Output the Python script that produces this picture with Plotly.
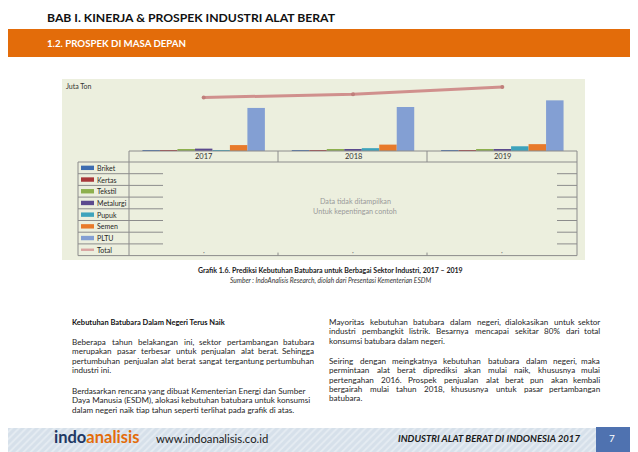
import plotly.graph_objects as go

# ---------------- data (Juta Ton) ----------------
years = ["2017", "2018", "2019"]
briket = [0.4, 0.4, 0.4]
kertas = [1.2, 1.2, 1.2]
tekstil = [2.5, 2.5, 2.5]
metalurgi = [5.0, 4.0, 4.0]
pupuk = [2.0, 6.0, 10.0]
semen = [12.5, 13.5, 14.5]
pltu = [91.0, 93.0, 107.0]
total = [113.0, 120.0, 135.0]

series_names = ["Briket", "Kertas", "Tekstil", "Metalurgi", "Pupuk", "Semen", "PLTU"]
series_values = [briket, kertas, tekstil, metalurgi, pupuk, semen, pltu]
series_colors = ["#3E6DB0", "#A8383A", "#8DB04D", "#5B4A8E", "#3DA3BC", "#E87A2A", "#839FD3"]
total_color = "#D0908D"

FONT = "Lato"
# the page body has an 8px margin: figure is placed at (8, 8)
OFF = 8
FW, FH = 630, 444

# plot area in page pixels
PX0, PX1 = 129, 577
PY_TOP, PY_BASE = 80, 151


def fx(px):
    return (px - OFF) / FW


def fy(py):
    return 1 - (py - OFF) / FH


fig = go.Figure()

for name, vals, col in zip(series_names, series_values, series_colors):
    fig.add_trace(go.Bar(x=years, y=vals, name=name, marker=dict(color=col, line=dict(width=0)),
                         showlegend=False, xaxis="x", yaxis="y"))

fig.add_trace(go.Scatter(x=years, y=total, name="Total", mode="lines+markers",
                         line=dict(color=total_color, width=3),
                         marker=dict(size=4, color="#C07F7B"),
                         showlegend=False, xaxis="x", yaxis="y"))

# footer hatched band (page-pixel overlay axis)
fig.add_trace(go.Scatter(x=[0, 596, 596, 0, 0], y=[428, 428, 452, 452, 428], mode="lines",
                         line=dict(width=0), fill="toself",
                         fillcolor="#DCE5EE",
                         fillpattern=dict(shape="/", fgcolor="#F4F7FA", bgcolor="#D6E0EA", size=5, solidity=0.35),
                         hoverinfo="skip", showlegend=False, xaxis="x2", yaxis="y2"))

shapes = []
ann = []


def rect(x0, y0, x1, y1, color, layer="below"):
    shapes.append(dict(type="rect", xref="paper", yref="paper", x0=fx(x0), y0=fy(y0), x1=fx(x1), y1=fy(y1),
                       fillcolor=color, layer=layer, line=dict(width=0)))


def line(x0, y0, x1, y1, color="#8C8C8C", w=1, layer="above"):
    shapes.append(dict(type="line", xref="paper", yref="paper", x0=fx(x0), y0=fy(y0), x1=fx(x1), y1=fy(y1),
                       layer=layer, line=dict(color=color, width=w)))


def text(x, y, s, size, color="#262626", xanchor="left", weight="normal", style="normal", family=FONT):
    ann.append(dict(xref="paper", yref="paper", x=fx(x), y=fy(y), text=s, showarrow=False,
                    xanchor=xanchor, yanchor="middle", borderpad=0,
                    font=dict(family=family, size=size, color=color, weight=weight, style=style)))


# approximate Lato Regular advance widths (em)
CW = {" ": 0.193, ",": 0.2, ".": 0.2, "(": 0.33, ")": 0.33, "%": 0.8, "-": 0.33, ":": 0.2}
CW.update(dict(zip("abcdefghijklmnopqrstuvwxyz",
                   [0.49, 0.55, 0.45, 0.55, 0.51, 0.32, 0.49, 0.55, 0.23, 0.23, 0.5, 0.23, 0.82,
                    0.55, 0.55, 0.55, 0.55, 0.37, 0.42, 0.34, 0.55, 0.5, 0.76, 0.49, 0.5, 0.44])))
CW.update(dict(zip("ABCDEFGHIJKLMNOPQRSTUVWXYZ",
                   [0.72, 0.68, 0.71, 0.79, 0.61, 0.59, 0.77, 0.8, 0.32, 0.44, 0.71, 0.55, 0.95,
                    0.8, 0.85, 0.65, 0.85, 0.67, 0.57, 0.63, 0.77, 0.72, 1.05, 0.69, 0.66, 0.65])))
CW.update({d: 0.58 for d in "0123456789"})
CAL = 1.035


def est_w(s, size):
    return sum(CW.get(c, 0.55) for c in s) * size * CAL


def justified(x0, x1, y, s, size, color="#262626"):
    words = s.split()
    total_w = sum(est_w(w, size) for w in words)
    gap = (x1 - x0 - total_w) / max(len(words) - 1, 1)
    if len(words) < 2 or gap < est_w(" ", size) * 1.7:
        text(x0, y, " ".join(words), size, color)
        return
    xc = x0
    for k, w in enumerate(words):
        if k == len(words) - 1:
            text(x1, y, w, size, color, xanchor="right")
        else:
            text(xc, y, w, size, color)
        xc += est_w(w, size) + gap


def paragraph(x0, x1, y0, lines, size, ls):
    for i, s in enumerate(lines):
        yy = y0 + ls * i
        if i == len(lines) - 1:
            text(x0, yy, s, size)
        else:
            justified(x0, x1, yy, s, size)


# header
text(46, 18, "BAB I. KINERJA & PROSPEK INDUSTRI ALAT BERAT", 12.2, "#111111", weight="bold")
rect(0, 29, 640, 57, "#E36C0A")
text(46, 43, "1.2. PROSPEK DI MASA DEPAN", 9.7, "#FFFFFF", weight="bold")

# chart panel
rect(62, 79, 585, 260, "#ECEFDE")
text(65, 86, "Juta Ton", 7, "#333333")

# data table
row_h = 11.7
t_top, h_bot = 151, 162
t_bot = h_bot + row_h * 8
gc = "#8C8C8C"
line(PX0, t_top, PX1, t_top, gc)
line(PX0, h_bot, PX1, h_bot, gc)
line(PX0, t_top, PX0, t_bot, gc)
line(PX1, t_top, PX1, t_bot, gc)
line(78, h_bot, 78, t_bot, gc)
line(78, h_bot, PX0, h_bot, gc)
line(78, t_bot, PX1, t_bot, gc)
for xd in (278, 427):
    line(xd, t_top, xd, h_bot, gc)
    line(xd, t_bot - 3, xd, t_bot, gc)
for i in range(1, 8):
    yy = h_bot + row_h * i
    line(78, yy, PX0, yy, gc)
    line(PX0, yy, 163, yy, gc)
    line(557, yy, PX1, yy, gc)

for i, yr in enumerate(years):
    ann.append(dict(xref="x", yref="paper", x=i, y=fy(156.5), text=yr, showarrow=False,
                    xanchor="center", yanchor="middle",
                    font=dict(family=FONT, size=7.5, color="#333333")))
    ann.append(dict(xref="x", yref="paper", x=i, y=fy(251.5), text="·", showarrow=False,
                    xanchor="center", yanchor="middle",
                    font=dict(family=FONT, size=7, color="#777777")))

legend_names = series_names + ["Total"]
legend_cols = series_colors + ["#D9A3A0"]
for i, (nm, col) in enumerate(zip(legend_names, legend_cols)):
    yc = h_bot + row_h * (i + 0.5)
    hh = 1.2 if nm == "Total" else 2.2
    rect(81, yc - hh, 94, yc + hh, col, layer="above")
    text(95.5, yc, nm, 7, "#262626")

text(355, 201, "Data tidak ditampilkan", 7.2, "#9A9A9A", xanchor="center")
text(355, 211, "Untuk kepentingan contoh", 7.2, "#9A9A9A", xanchor="center")

# caption
text(330, 270, "Grafik 1.6. Prediksi Kebutuhan Batubara untuk Berbagai Sektor Industri, 2017 – 2019", 7, "#1A1A1A",
     xanchor="center", weight="bold")
text(330, 280, "Sumber : IndoAnalisis Research, diolah dari Presentasi Kementerian ESDM", 6.6, "#333333",
     xanchor="center", style="italic")

# body text
left_title = "Kebutuhan Batubara Dalam Negeri Terus Naik"
left_p1 = ["Beberapa tahun belakangan ini, sektor pertambangan batubara",
           "merupakan pasar terbesar untuk penjualan alat berat. Sehingga",
           "pertumbuhan penjualan alat berat sangat tergantung pertumbuhan",
           "industri ini."]
left_p2 = ["Berdasarkan rencana yang dibuat Kementerian Energi dan Sumber",
           "Daya Manusia (ESDM), alokasi  kebutuhan batubara untuk konsumsi",
           "dalam negeri naik tiap tahun seperti terlihat pada grafik di atas."]
right_p1 = ["Mayoritas kebutuhan batubara dalam negeri, dialokasikan untuk sektor",
            "industri pembangkit listrik. Besarnya mencapai sekitar 80% dari total",
            "konsumsi batubara dalam negeri."]
right_p2 = ["Seiring dengan meingkatnya kebutuhan batubara dalam negeri, maka",
            "permintaan alat berat diprediksi akan mulai naik, khususnya mulai",
            "pertengahan 2016. Prospek penjualan alat berat pun akan kembali",
            "bergairah mulai tahun 2018, khususnya untuk pasar pertambangan",
            "batubara."]
LS = 9.3
BS = 8.1
text(71, 322, left_title, 7.5, "#111111", weight="bold")
paragraph(71, 315, 342, left_p1, BS, LS)
paragraph(71, 315, 391, left_p2, BS, LS)
paragraph(328, 601, 322, right_p1, BS, LS)
paragraph(328, 601, 361, right_p2, BS, LS)

# footer
rect(596, 427, 640, 454, "#4F72B0")
text(612, 438, "7", 10, "#FFFFFF", xanchor="center")
text(53, 437, "<span style='color:#1F3864'>indo</span><span style='color:#E36C0A'>analisis</span>", 16.5,
     "#1F3864", weight="bold")
text(155, 438, "www.indoanalisis.co.id", 11.3, "#1A1A1A")
text(581, 438, "INDUSTRI ALAT BERAT DI INDONESIA 2017", 9.6, "#1A1A1A", xanchor="right", weight="bold",
     style="italic")

fig.update_layout(
    width=FW, height=FH, margin=dict(l=0, r=0, t=0, b=0),
    paper_bgcolor="#FFFFFF", plot_bgcolor="rgba(0,0,0,0)",
    barmode="group", bargap=0.18, bargroupgap=0,
    shapes=shapes, annotations=ann, showlegend=False,
    xaxis=dict(domain=[fx(PX0), fx(PX1)], type="category", showticklabels=False, showgrid=False,
               zeroline=False, showline=False, ticks="", fixedrange=True),
    yaxis=dict(domain=[fy(PY_BASE), fy(PY_TOP)], range=[0, 150], showticklabels=False, showgrid=False,
               zeroline=False, showline=False, ticks="", fixedrange=True),
    xaxis2=dict(domain=[0, 1], range=[OFF, OFF + FW], visible=False, fixedrange=True),
    yaxis2=dict(domain=[0, 1], range=[OFF + FH, OFF], visible=False, fixedrange=True),
)

fig.write_html("out.html", config={"displayModeBar": False})
